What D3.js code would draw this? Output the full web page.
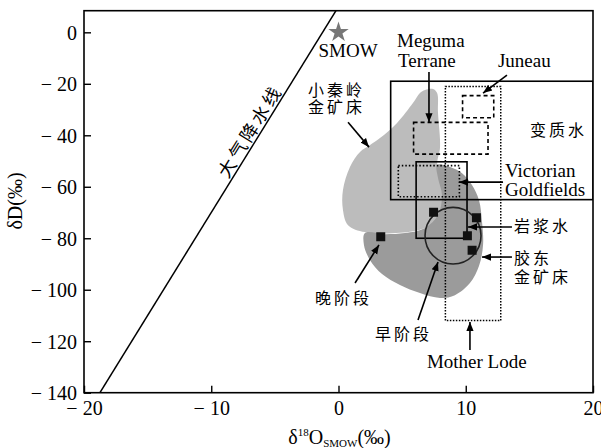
<!DOCTYPE html>
<html>
<head>
<meta charset="utf-8">
<script src="https://cdn.jsdelivr.net/npm/d3@7/dist/d3.min.js"></script>
<style>
	html, body { margin: 0; padding: 0; background: #fff; }
	svg { display: block; }
	.serif { font-family: "Liberation Serif", "DejaVu Serif", serif; }
	.cjk { font-family: "Noto Sans CJK SC", "Noto Sans", sans-serif; }
</style>
</head>
<body>
<div id="vis"></div>
<script>

// axis ticks
var xTicks = [-20, -10, 0, 10, 20];
var yTicks = [0, -20, -40, -60, -80, -100, -120, -140];

// global meteoric water line  dD = 8 * d18O + 10
var gmwlX = [-20, 0];
var gmwlSlope = 8;
var gmwlIntercept = 10;

// SMOW
var smow = [0, 0];

// fields (x0, x1, y0, y1)
var boxNames = ["metamorphic", "motherLode", "juneau", "meguma", "victorian", "magmatic"];
var boxX0 = [4.1, 8.4, 9.75, 5.9, 4.7, 6.1];
var boxX1 = [20, 12.75, 12.2, 11.75, 9.5, 10.1];
var boxY0 = [-19, -21, -24.6, -35, -51.8, -50.3];
var boxY1 = [-65, -112, -33.2, -47.3, -63.9, -80];

// Xiaoqinling gold deposits field
var xqlField = [
	[6.80, -22.4], [7.43, -22.0], [7.75, -23.6], [7.82, -31.3], [7.98, -44.6],
	[7.75, -51.5], [8.21, -61.3], [8.13, -71.0], [6.80, -76.0], [4.83, -77.9],
	[2.08, -77.6], [0.75, -74.9], [0.35, -69.0], [0.35, -61.3], [0.90, -52.3],
	[1.69, -46.5], [2.48, -43.8], [3.26, -41.1], [4.60, -35.2], [5.85, -27.5],
	[6.40, -23.6]
];

// Jiaodong gold deposits field
var jdField = [
	[7.75, -51.5], [8.76, -52.3], [9.71, -54.7], [10.49, -59.3], [11.04, -65.2],
	[11.28, -73.7], [11.36, -82.6], [11.04, -90.8], [10.33, -97.4], [9.15, -102.1],
	[7.98, -103.2], [6.40, -101.3], [4.83, -98.2], [3.42, -93.9], [2.48, -88.5],
	[2.00, -82.6], [2.08, -78.0], [3.65, -78.4], [5.23, -78.0], [6.80, -76.0],
	[7.82, -71.0], [8.13, -63.2], [7.82, -56.6]
];

// early stage circle: centre and radii
var earlyCircle = [9.0, -79, 2.2, 11];

// samples
var sampleX = [7.47, 10.84, 10.13, 10.5, 3.32];
var sampleY = [-69.9, -72, -79, -84.7, -79.4];

function startChart() {

	var width = 601, height = 448;
	var left = 84, right = 593, top = 10.7, bottom = 392.7;

	var svg = d3.select("#vis").append("svg")
		.attr("width", width)
		.attr("height", height);

	var xScale = d3.scaleLinear().domain([-20, 20]).range([left, right]);
	var yScale = d3.scaleLinear().domain([-140, 8.4]).range([bottom, top]);

	var defs = svg.append("defs");

	defs.append("clipPath").attr("id", "plotClip")
		.append("rect")
		.attr("x", left).attr("y", top)
		.attr("width", right - left).attr("height", bottom - top);

	defs.append("marker")
		.attr("id", "arrow")
		.attr("viewBox", "0 0 10 10")
		.attr("refX", 10).attr("refY", 5)
		.attr("markerWidth", 9).attr("markerHeight", 9)
		.attr("markerUnits", "userSpaceOnUse")
		.attr("orient", "auto")
		.append("path")
		.attr("d", "M0,1 L10,5 L0,9 Z")
		.attr("fill", "#000");

	var plot = svg.append("g").attr("clip-path", "url(#plotClip)");

	var area = d3.line()
		.x(function (d) { return xScale(d[0]); })
		.y(function (d) { return yScale(d[1]); })
		.curve(d3.curveCatmullRomClosed.alpha(0.5));

	plot.append("path")
		.attr("d", area(xqlField))
		.attr("fill", "#bcbcbc");

	plot.append("path")
		.attr("d", area(jdField))
		.attr("fill", "#9b9b9b");

	// GMWL
	plot.append("line")
		.attr("x1", xScale(gmwlX[0]))
		.attr("y1", yScale(gmwlSlope * gmwlX[0] + gmwlIntercept))
		.attr("x2", xScale(gmwlX[1]))
		.attr("y2", yScale(gmwlSlope * gmwlX[1] + gmwlIntercept))
		.attr("stroke", "#000")
		.attr("stroke-width", 1.5);

	// boxes
	var boxStyle = {
		metamorphic: { dash: null, w: 1.6 },
		motherLode: { dash: "1.5,1.5", w: 1.5 },
		juneau: { dash: "4,3", w: 1.6 },
		meguma: { dash: "4,3", w: 1.6 },
		victorian: { dash: "1.5,2", w: 1.6 },
		magmatic: { dash: null, w: 1.6 }
	};

	plot.selectAll(".box")
		.data(boxNames)
		.enter()
		.append("rect")
		.attr("class", "box")
		.attr("x", function (d, i) { return xScale(boxX0[i]); })
		.attr("y", function (d, i) { return yScale(boxY0[i]); })
		.attr("width", function (d, i) { return xScale(boxX1[i]) - xScale(boxX0[i]); })
		.attr("height", function (d, i) { return yScale(boxY1[i]) - yScale(boxY0[i]); })
		.attr("fill", "none")
		.attr("stroke", "#000")
		.attr("stroke-width", function (d) { return boxStyle[d].w; })
		.attr("stroke-dasharray", function (d) { return boxStyle[d].dash; });

	plot.append("ellipse")
		.attr("cx", xScale(earlyCircle[0]))
		.attr("cy", yScale(earlyCircle[1]))
		.attr("rx", xScale(earlyCircle[2]) - xScale(0))
		.attr("ry", yScale(0) - yScale(earlyCircle[3]))
		.attr("fill", "none")
		.attr("stroke", "#222")
		.attr("stroke-width", 1.6);

	plot.selectAll(".sample")
		.data(sampleX)
		.enter()
		.append("path")
		.attr("class", "sample")
		.attr("transform", function (d, i) { return "translate(" + xScale(d) + "," + yScale(sampleY[i]) + ")"; })
		.attr("d", d3.symbol(d3.symbolSquare).size(81))
		.attr("fill", "#111");

	plot.append("path")
		.attr("transform", "translate(" + xScale(smow[0]) + "," + yScale(smow[1]) + ")")
		.attr("d", d3.symbol(d3.symbolStar).size(130))
		.attr("fill", "#777");

	// frame
	svg.append("rect")
		.attr("x", left).attr("y", top)
		.attr("width", right - left).attr("height", bottom - top)
		.attr("fill", "none")
		.attr("stroke", "#000")
		.attr("stroke-width", 1.6);

	// axes
	var fmt = function (d) { return d < 0 ? "\u2212 " + Math.abs(d) : String(d); };

	var xAxis = svg.append("g")
		.attr("class", "serif")
		.attr("transform", "translate(0," + bottom + ")")
		.call(d3.axisTop(xScale).tickValues(xTicks).tickSize(7).tickFormat(""));
	xAxis.select(".domain").remove();
	xAxis.selectAll(".tick line").attr("stroke-width", 1.4);
	xAxis.selectAll(".tick").append("text")
		.attr("y", 22)
		.attr("fill", "#000")
		.attr("text-anchor", "middle")
		.style("font-size", "20px")
		.text(fmt);

	var yAxis = svg.append("g")
		.attr("class", "serif")
		.attr("transform", "translate(" + left + ",0)")
		.call(d3.axisRight(yScale).tickValues(yTicks).tickSize(7).tickFormat(""));
	yAxis.select(".domain").remove();
	yAxis.selectAll(".tick line").attr("stroke-width", 1.4);
	yAxis.selectAll(".tick").append("text")
		.attr("x", -7)
		.attr("dy", "0.34em")
		.attr("fill", "#000")
		.attr("text-anchor", "end")
		.style("font-size", "20px")
		.text(fmt);

	// axis titles
	var xTitle = svg.append("text")
		.attr("class", "serif")
		.attr("x", xScale(0) + 1)
		.attr("y", 444)
		.attr("text-anchor", "middle")
		.style("font-size", "20px");
	xTitle.append("tspan").text("\u03b4");
	xTitle.append("tspan").attr("dy", -8).style("font-size", "11px").text("18");
	xTitle.append("tspan").attr("dy", 8).text("O");
	xTitle.append("tspan").attr("dy", 3).style("font-size", "11px").text("SMOW");
	xTitle.append("tspan").attr("dy", -3).text("(\u2030)");

	svg.append("text")
		.attr("class", "serif")
		.attr("transform", "translate(22,201) rotate(-90)")
		.attr("text-anchor", "middle")
		.style("font-size", "20px")
		.text("\u03b4D(\u2030)");

	// annotations
	function serifText(x, y, s, anchor) {
		svg.append("text")
			.attr("class", "serif")
			.attr("x", xScale(x)).attr("y", yScale(y))
			.attr("text-anchor", anchor || "start")
			.attr("fill", "#000")
			.style("font-size", "19px")
			.text(s);
	}

	function cjkText(x, y, s) {
		svg.append("text")
			.attr("class", "cjk")
			.attr("x", xScale(x)).attr("y", yScale(y))
			.attr("dy", "0.36em")
			.attr("fill", "#000")
			.style("font-size", "16px")
			.style("letter-spacing", "3px")
			.text(s);
	}

	function arrow(x1, y1, x2, y2) {
		svg.append("line")
			.attr("x1", xScale(x1)).attr("y1", yScale(y1))
			.attr("x2", xScale(x2)).attr("y2", yScale(y2))
			.attr("stroke", "#000")
			.attr("stroke-width", 1.6)
			.attr("marker-end", "url(#arrow)");
	}

	serifText(0.75, -9.6, "SMOW", "middle");
	serifText(4.6, -5.7, "Meguma");
	serifText(4.68, -13.5, "Terrane");
	serifText(12.53, -13.5, "Juneau");
	serifText(13.08, -56.2, "Victorian");
	serifText(13.08, -63.6, "Goldfields");
	serifText(6.95, -130.4, "Mother Lode");

	cjkText(-2.4, -22.4, "小秦岭");
	cjkText(-2.4, -29.0, "金矿床");
	cjkText(15.05, -38.0, "变质水");
	cjkText(13.79, -75.3, "岩浆水");
	cjkText(13.79, -87.7, "胶东");
	cjkText(13.79, -95.1, "金矿床");
	cjkText(-1.85, -103.2, "晚阶段");
	cjkText(2.87, -117.2, "早阶段");

	arrow(7.11, -15.4, 7.11, -34.9);
	arrow(13.24, -16.6, 11.36, -23.6);
	arrow(0.75, -34.9, 2.40, -44.6);
	arrow(12.93, -58.2, 9.47, -58.2);
	arrow(13.63, -75.6, 10.18, -75.6);
	arrow(13.63, -87.3, 11.28, -87.3);
	arrow(1.30, -97.4, 3.18, -82.6);
	arrow(6.25, -111.8, 7.82, -89.2);
	arrow(10.33, -123.4, 10.33, -112.5);

	// GMWL label, rotated along the line
	var angle = Math.atan2(yScale(0) - yScale(gmwlSlope), xScale(1) - xScale(0)) * 180 / Math.PI;
	var lx = xScale(-6.95), ly = yScale(-38.4);
	svg.append("text")
		.attr("class", "cjk")
		.attr("transform", "translate(" + lx + "," + ly + ") rotate(" + (-angle) + ")")
		.attr("text-anchor", "middle")
		.attr("dy", "0.36em")
		.attr("fill", "#000")
		.style("font-size", "18px")
		.style("letter-spacing", "3px")
		.text("大气降水线");
}

startChart();

</script>
</body>
</html>
